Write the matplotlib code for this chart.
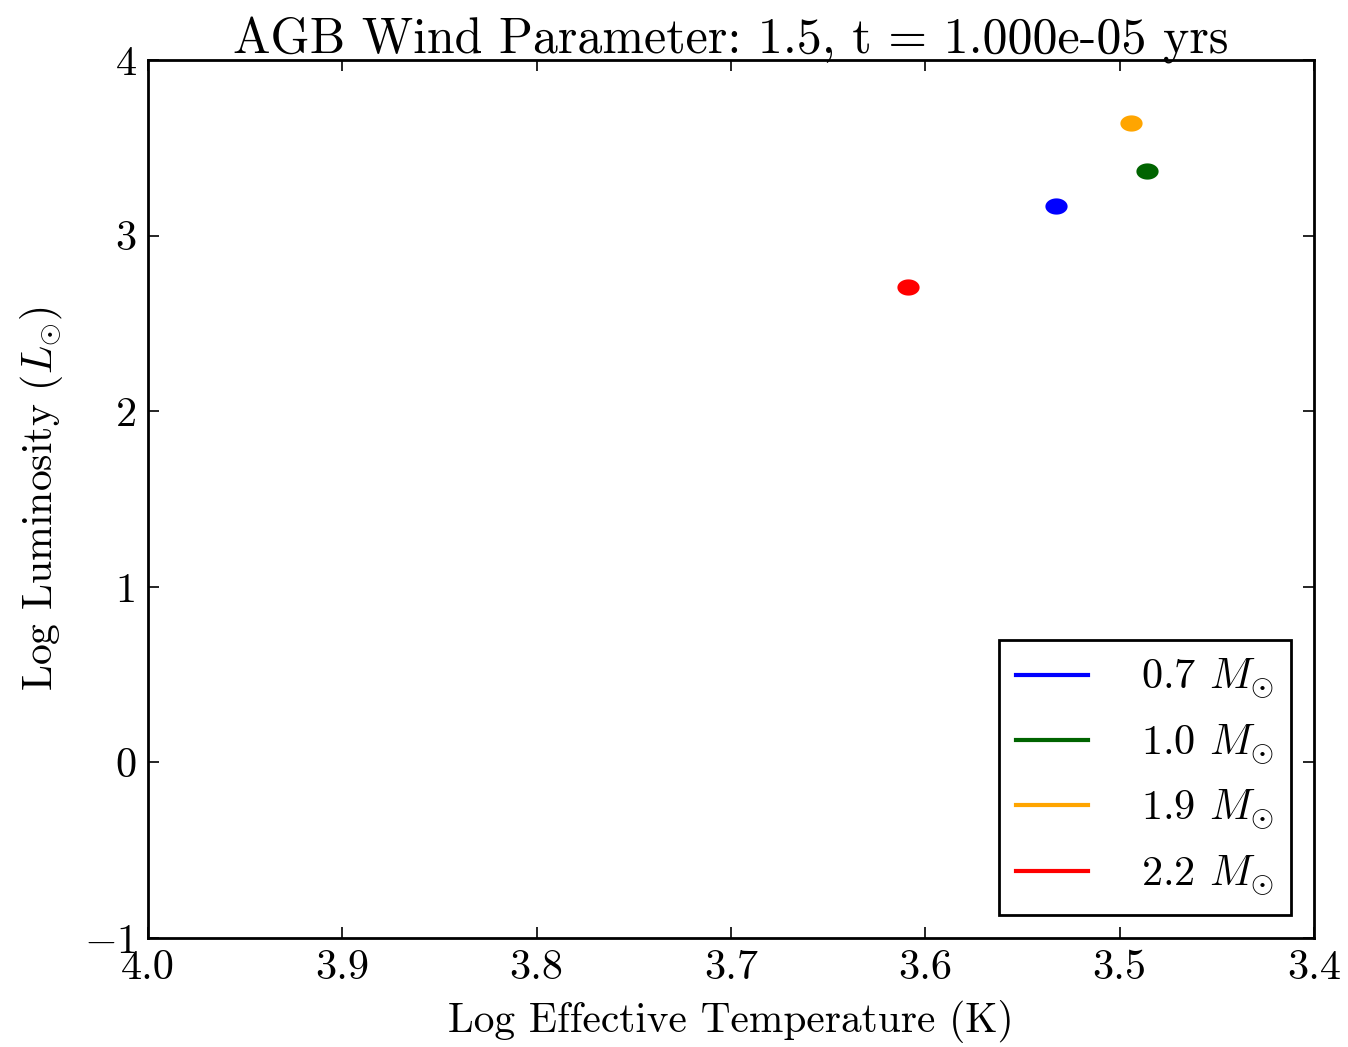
import numpy as np
import matplotlib
matplotlib.use("Agg")
import matplotlib.pyplot as plt
from matplotlib.path import Path
from matplotlib.lines import Line2D

plt.rcParams['font.family'] = 'serif'
plt.rcParams['font.serif'] = ['cmr10']
plt.rcParams['mathtext.fontset'] = 'cm'
plt.rcParams['axes.formatter.use_mathtext'] = True
plt.rcParams['axes.unicode_minus'] = True

labels = ["0.7 $M_{\\odot}$", "1.0 $M_{\\odot}$", "1.9 $M_{\\odot}$", "2.2 $M_{\\odot}$"]
colors = ["#0000ff", "#006400", "#ffa500", "#ff0000"]
log_teff = [3.533, 3.486, 3.494, 3.609]
log_lum = [3.169, 3.368, 3.641, 2.707]

xticks = [4.0, 3.9, 3.8, 3.7, 3.6, 3.5, 3.4]
yticks = [-1, 0, 1, 2, 3, 4]

# elliptical marker
th = np.linspace(0, 2 * np.pi, 60)
ell = Path(np.column_stack([np.cos(th), 0.73 * np.sin(th)]), closed=True)

fig = plt.figure(figsize=(13.48, 10.47), dpi=100)
ax = fig.add_axes([0.1098, 0.1041, 0.865, 0.8386])

for x, y, c in zip(log_teff, log_lum, colors):
    ax.plot([x], [y], linestyle='none', marker=ell, markersize=16,
            markerfacecolor=c, markeredgecolor=c, markeredgewidth=0)

ax.set_xlim(4.0, 3.4)
ax.set_ylim(-1, 4)
ax.set_xticks(xticks)
ax.set_xticklabels(["%.1f" % v for v in xticks])
ax.set_yticks(yticks)
ax.set_yticklabels(["$-1$" if v < 0 else "%d" % v for v in yticks])

ax.tick_params(direction='in', top=True, right=True, length=8, width=1.2,
               labelsize=30.5, pad=8)
for s in ax.spines.values():
    s.set_linewidth(2.0)

ax.set_xlabel("Log Effective Temperature (K)", fontsize=29.8, labelpad=10)
ax.set_ylabel("Log Luminosity ($L_{\\odot}$)", fontsize=30, labelpad=14)
ax.set_title("AGB Wind Parameter: 1.5, t = 1.000e-05 yrs", fontsize=36, pad=5)

handles = [Line2D([], [], color=c, linewidth=3) for c in colors]
leg = ax.legend(handles, labels, loc='lower right', fontsize=30.5,
                fancybox=False, frameon=True, edgecolor='black',
                framealpha=1, borderaxespad=0.55, handlelength=1.7,
                handletextpad=1.25, labelspacing=0.5, borderpad=0.4)
leg.get_frame().set_linewidth(2.0)

fig.savefig("out.png", dpi=100)
